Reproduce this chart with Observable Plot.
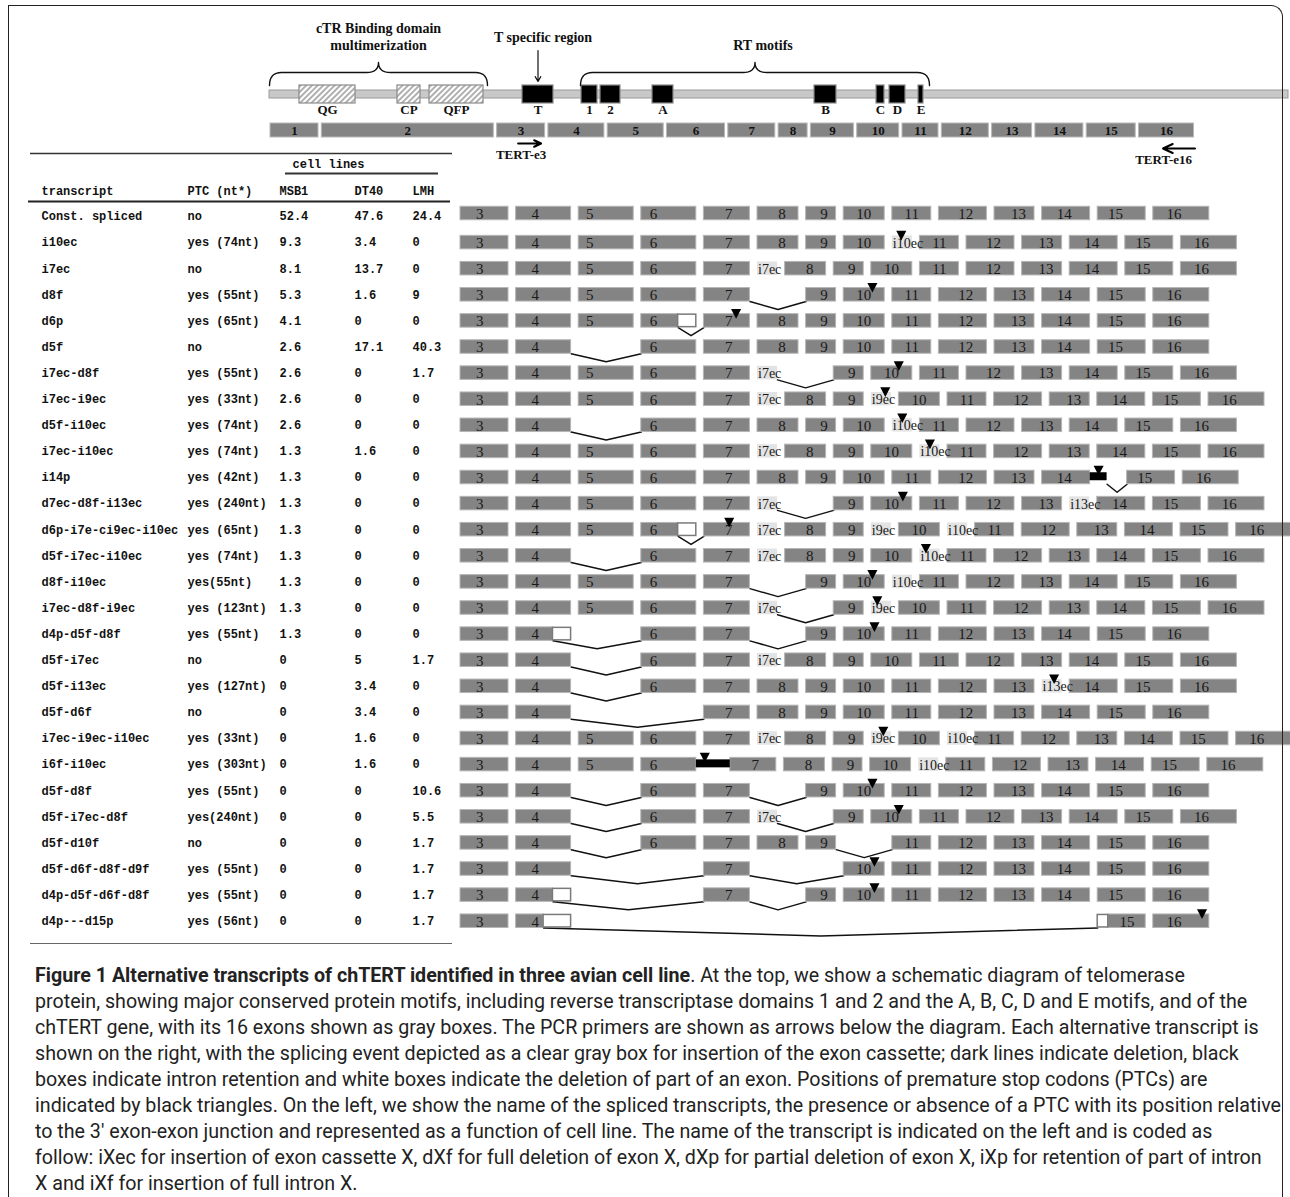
<!DOCTYPE html>
<html>
<head>
<meta charset="utf-8">
<script src="https://cdn.jsdelivr.net/npm/d3@7"></script>
<script src="https://cdn.jsdelivr.net/npm/@observablehq/plot@0.6"></script>
<style>
html,body{margin:0;padding:0;background:#fff;overflow:hidden;}
#wrap{position:relative;width:1290px;height:1197px;}
#frame{position:absolute;left:8px;top:5px;width:1275px;height:1250px;border:1.5px solid #222;border-bottom:none;border-top-right-radius:12px;pointer-events:none;box-sizing:border-box;}
#chart{position:absolute;left:0;top:0;}
#caption{position:absolute;left:35px;top:962px;font-family:Roboto,"Open Sans",sans-serif;font-size:21px;line-height:26px;color:#222;transform-origin:0 0;white-space:nowrap;}
#caption b{font-weight:700;}
</style>
</head>
<body>
<div id="wrap">
  <div id="chart"></div>
  <div id="caption"></div>
  <div id="frame"></div>
</div>
<script>
// ---------------- DATA ----------------
const transcripts = ["Const. spliced","i10ec","i7ec","d8f","d6p","d5f","i7ec-d8f","i7ec-i9ec","d5f-i10ec","i7ec-i10ec","i14p","d7ec-d8f-i13ec","d6p-i7e-ci9ec-i10ec","d5f-i7ec-i10ec","d8f-i10ec","i7ec-d8f-i9ec","d4p-d5f-d8f","d5f-i7ec","d5f-i13ec","d5f-d6f","i7ec-i9ec-i10ec","i6f-i10ec","d5f-d8f","d5f-i7ec-d8f","d5f-d10f","d5f-d6f-d8f-d9f","d4p-d5f-d6f-d8f","d4p---d15p"];
const ptcText = ["no","yes (74nt)","no","yes (55nt)","yes (65nt)","no","yes (55nt)","yes (33nt)","yes (74nt)","yes (74nt)","yes (42nt)","yes (240nt)","yes (65nt)","yes (74nt)","yes(55nt)","yes (123nt)","yes (55nt)","no","yes (127nt)","no","yes (33nt)","yes (303nt)","yes (55nt)","yes(240nt)","no","yes (55nt)","yes (55nt)","yes (56nt)"];
const msb1 = [52.4,9.3,8.1,5.3,4.1,2.6,2.6,2.6,2.6,1.3,1.3,1.3,1.3,1.3,1.3,1.3,1.3,0,0,0,0,0,0,0,0,0,0,0];
const dt40 = [47.6,3.4,13.7,1.6,0,17.1,0,0,0,1.6,0,0,0,0,0,0,0,5,3.4,3.4,1.6,1.6,0,0,0,0,0,0];
const lmh  = [24.4,0,0,9,0,40.3,1.7,0,0,0,0,0,0,0,0,0,0,1.7,0,0,0,0,10.6,5.5,1.7,1.7,1.7,1.7];
const tableHeaders = ["transcript","PTC (nt*)","MSB1","DT40","LMH"];

// transcript structures: N exon, dN deleted exon, N<f last part deleted, N>f first part deleted,
// iNec exon cassette, iNf full intron, iNp partial intron
const structure = [
 "3 4 5 6 7 8 9 10 11 12 13 14 15 16",
 "3 4 5 6 7 8 9 10 i10ec 11 12 13 14 15 16",
 "3 4 5 6 7 i7ec 8 9 10 11 12 13 14 15 16",
 "3 4 5 6 7 d8 9 10 11 12 13 14 15 16",
 "3 4 5 6<0.33 7 8 9 10 11 12 13 14 15 16",
 "3 4 d5 6 7 8 9 10 11 12 13 14 15 16",
 "3 4 5 6 7 i7ec d8 9 10 11 12 13 14 15 16",
 "3 4 5 6 7 i7ec 8 9 i9ec 10 11 12 13 14 15 16",
 "3 4 d5 6 7 8 9 10 i10ec 11 12 13 14 15 16",
 "3 4 5 6 7 i7ec 8 9 10 i10ec 11 12 13 14 15 16",
 "3 4 5 6 7 8 9 10 11 12 13 14 i14p 15 16",
 "3 4 5 6 7 i7ec d8 9 10 11 12 13 i13ec 14 15 16",
 "3 4 5 6<0.33 7 i7ec 8 9 i9ec 10 i10ec 11 12 13 14 15 16",
 "3 4 d5 6 7 i7ec 8 9 10 i10ec 11 12 13 14 15 16",
 "3 4 5 6 7 d8 9 10 i10ec 11 12 13 14 15 16",
 "3 4 5 6 7 i7ec d8 9 i9ec 10 11 12 13 14 15 16",
 "3 4<0.33 d5 6 7 d8 9 10 11 12 13 14 15 16",
 "3 4 d5 6 7 i7ec 8 9 10 11 12 13 14 15 16",
 "3 4 d5 6 7 8 9 10 11 12 13 i13ec 14 15 16",
 "3 4 d5 d6 7 8 9 10 11 12 13 14 15 16",
 "3 4 5 6 7 i7ec 8 9 i9ec 10 i10ec 11 12 13 14 15 16",
 "3 4 5 6 i6f 7 8 9 10 i10ec 11 12 13 14 15 16",
 "3 4 d5 6 7 d8 9 10 11 12 13 14 15 16",
 "3 4 d5 6 7 i7ec d8 9 10 11 12 13 14 15 16",
 "3 4 d5 6 7 8 9 d10 11 12 13 14 15 16",
 "3 4 d5 d6 7 d8 d9 10 11 12 13 14 15 16",
 "3 4<0.33 d5 d6 7 d8 9 10 11 12 13 14 15 16",
 "3 4<0.5 d5 d6 d7 d8 d9 d10 d11 d12 d13 d14 15>0.22 16"
];
// premature stop codon: element name and relative position within it
const ptcSite = ["","i10ec:0.45","","10:0.7","7:0.7","","10:0.67","i9ec:0.7","i10ec:0.5","i10ec:0.5","i14p:0.5","10:0.77","7:0.55","i10ec:0.3","10:0.7","i9ec:0.3","10:0.75","","i13ec:0.6","","i9ec:0.6","i6f:0.25","10:0.7","10:0.67","","10:0.75","10:0.75","16:0.87"];

// exon lengths in the transcript drawings (exons 3..16)
const exonIds = [3,4,5,6,7,8,9,10,11,12,13,14,15,16];
const exonLen = [48,55,55,55,46,41,30,41,39,48,40,48,48,56];

// gene (header) exons 1..16
const geneExonIds = ["1","2","3","4","5","6","7","8","9","10","11","12","13","14","15","16"];
const geneExonLen = [48,172,48,56,56,58,47,29,43,42,36,47,40,48,49,55];

// protein motifs along the protein bar
const motifNames = ["QG","CP","QFP","T","1","2","A","B","C","D","E"];
const motifStart = [299,397,429,522,581,600,652,814,876,889,918];
const motifEnd   = [355,420,483,553,597,620,673,836,884,905,923];
const motifKind  = ["hatch","hatch","hatch","solid","solid","solid","solid","solid","solid","solid","solid"];
const motifItalic= [false,true,true,false,false,false,false,false,false,false,false];
const proteinSpan = [269,1288];

const braceLines = [["cTR Binding domain","multimerization"],["RT motifs"]];
const braceFrom = [269,580];
const braceTo   = [487,929];

const primers = ["TERT-e3","TERT-e16"];
const primerExon = ["3","16"];
const primerDir = [1,-1];

const captionLines = [
 ["Figure 1 Alternative transcripts of chTERT identified in three avian cell line", ". At the top, we show a schematic diagram of telomerase"],
 ["", "protein, showing major conserved protein motifs, including reverse transcriptase domains 1 and 2 and the A, B, C, D and E motifs, and of the"],
 ["", "chTERT gene, with its 16 exons shown as gray boxes. The PCR primers are shown as arrows below the diagram. Each alternative transcript is"],
 ["", "shown on the right, with the splicing event depicted as a clear gray box for insertion of the exon cassette; dark lines indicate deletion, black"],
 ["", "boxes indicate intron retention and white boxes indicate the deletion of part of an exon. Positions of premature stop codons (PTCs) are"],
 ["", "indicated by black triangles. On the left, we show the name of the spliced transcripts, the presence or absence of a PTC with its position relative"],
 ["", "to the 3\u2032 exon-exon junction and represented as a function of cell line. The name of the transcript is indicated on the left and is coded as"],
 ["", "follow: iXec for insertion of exon cassette X, dXf for full deletion of exon X, dXp for partial deletion of exon X, iXp for retention of part of intron"],
 ["", "X and iXf for insertion of full intron X."]
];

// ---------------- LAYOUT ----------------
const W = 1290, H = 948;
const SERIF = "Liberation Serif, Times New Roman, serif";
const MONO = "Liberation Mono, Courier New, monospace";
const GAP = 7.6, CASS = 20, INTRON_F = 34, INTRON_P = 17, JUMP = 20, X0 = 460, BOXH = 13.5, DIP = 8;
const rowY = r => 216 + r * 26.1;
const labelAt = {3:.4,4:.35,5:.2,6:.22,7:.54,8:.6,9:.6,10:.49,11:.5,12:.56,13:.6,14:.46,15:.37,16:.37};
const widthOf = n => exonLen[exonIds.indexOf(n)];

function parseTok(t){
  let m;
  if ((m = t.match(/^d(\d+)$/))) return {kind:"del", n:+m[1], w:widthOf(+m[1]), name:"d"+m[1]};
  if ((m = t.match(/^(\d+)<([\d.]+)$/))) return {kind:"exon", n:+m[1], w:widthOf(+m[1]), cutEnd:+m[2], name:m[1]};
  if ((m = t.match(/^(\d+)>([\d.]+)$/))) return {kind:"exon", n:+m[1], w:widthOf(+m[1]), cutStart:+m[2], name:m[1]};
  if ((m = t.match(/^(\d+)$/))) return {kind:"exon", n:+m[1], w:widthOf(+m[1]), name:m[1]};
  if ((m = t.match(/^i(\d+)ec$/))) return {kind:"cass", w:CASS, name:t};
  if ((m = t.match(/^i(\d+)f$/))) return {kind:"intron", w:INTRON_F, attachL:true, attachR:true, name:t};
  if ((m = t.match(/^i(\d+)p$/))) return {kind:"intronP", w:INTRON_P, attachL:true, name:t};
}

const grayBoxes = [], whiteBoxes = [], cassBoxes = [], blackBoxes = [], exonLabels = [], cassLabels = [], spliceLines = [], ptcMarks = [];
structure.forEach((s, r) => {
  const cy = rowY(r) - (r === 0 ? 3 : 0), top = cy - BOXH/2, bot = cy + BOXH/2;
  const toks = s.split(" ").map(parseTok);
  let cur = X0;
  toks.forEach((t, i) => {
    if (i > 0) {
      const p = toks[i-1];
      if (p.kind === "intronP") cur += JUMP;
      else if (!(t.attachL || p.attachR)) cur += GAP;
    }
    t.x1 = cur; cur += t.w; t.x2 = cur;
  });
  toks.forEach(t => {
    if (t.kind === "exon") {
      const gs = t.x1 + (t.cutStart ? t.w * t.cutStart : 0);
      const ge = t.x2 - (t.cutEnd ? t.w * t.cutEnd : 0);
      grayBoxes.push({x1: gs, x2: ge, y1: top, y2: bot});
      if (t.cutEnd) whiteBoxes.push({x1: ge, x2: t.x2, y1: top + 0.5, y2: bot - 0.5});
      if (t.cutStart) whiteBoxes.push({x1: t.x1, x2: gs, y1: top + 0.5, y2: bot - 0.5});
      const lx = t.cutStart ? (gs + ge) / 2 : t.x1 + t.w * labelAt[t.n];
      exonLabels.push({x: lx, y: cy + 0.5, text: String(t.n)});
    } else if (t.kind === "cass") {
      cassBoxes.push({x1: t.x1, x2: t.x2, y1: top, y2: bot});
      cassLabels.push({x: t.x1 + 0.5, y: cy + 0.5, text: t.name});
    } else if (t.kind === "intron" || t.kind === "intronP") {
      blackBoxes.push({x1: t.x1, x2: t.x2, y1: top + 2, y2: top + 10});
    }
  });
  const vis = toks.map((t, i) => ({t, i})).filter(d => d.t.kind !== "del");
  for (let k = 1; k < vis.length; k++) {
    const a = vis[k-1], b = vis[k];
    if (b.i - a.i > 1 || a.t.cutEnd || b.t.cutStart || a.t.kind === "intronP") {
      const from = a.t.cutEnd ? a.t.x2 - a.t.w * a.t.cutEnd : a.t.x2;
      const to = b.t.x1;
      const id = r + "-" + k;
      spliceLines.push({id, x: from, y: bot}, {id, x: (from + to) / 2, y: bot + DIP}, {id, x: to, y: bot});
    }
  }
  if (ptcSite[r]) {
    const [nm, f] = ptcSite[r].split(":");
    const t = toks.find(d => d.name === nm);
    ptcMarks.push({x: t.x1 + t.w * (+f), y: top - 0.5});
  }
});

// header gene exons
const geneBoxes = [];
{ let cur = 270; geneExonIds.forEach((id, i) => { geneBoxes.push({id, x1: cur, x2: cur + geneExonLen[i], y1: 123, y2: 137}); cur += geneExonLen[i] + 3.3; }); }
const geneLabels = geneBoxes.map(b => ({x: (b.x1 + b.x2) / 2, y: 130.5, text: b.id}));

// protein motifs
const motifs = motifNames.map((n, i) => ({name: n, x1: motifStart[i], x2: motifEnd[i], kind: motifKind[i], italic: motifItalic[i]}));

// braces
const bracePts = [];
braceFrom.forEach((x1, i) => {
  const x2 = braceTo[i], xc = (x1 + x2) / 2, yEnd = 85, yMid = 72, yPk = 62, rr = 12;
  const q = (p0, c, p1, n, out) => { for (let k = 0; k <= n; k++) { const t = k / n; out.push([(1-t)*(1-t)*p0[0] + 2*(1-t)*t*c[0] + t*t*p1[0], (1-t)*(1-t)*p0[1] + 2*(1-t)*t*c[1] + t*t*p1[1]]); } };
  const pts = [];
  q([x1, yEnd], [x1, yMid], [x1 + rr, yMid], 8, pts);
  q([xc - rr, yMid], [xc, yMid], [xc, yPk], 8, pts);
  q([xc, yPk], [xc, yMid], [xc + rr, yMid], 8, pts);
  q([x2 - rr, yMid], [x2, yMid], [x2, yEnd], 8, pts);
  pts.forEach(([x, y]) => bracePts.push({id: i, x, y}));
});
const braceText = [];
braceLines.forEach((lines, i) => {
  const xc = (braceFrom[i] + braceTo[i]) / 2 + (i === 1 ? 8 : 0);
  lines.forEach((l, k) => braceText.push({x: xc, y: 45 - (lines.length - 1 - k) * 17, text: l}));
});
const tMotif = motifs[motifNames.indexOf("T")];
const tCenter = (tMotif.x1 + tMotif.x2) / 2;

// primers
const primerArrows = [], primerText = [];
primers.forEach((p, i) => {
  const b = geneBoxes[geneExonIds.indexOf(primerExon[i])];
  const c = (b.x1 + b.x2) / 2;
  if (primerDir[i] > 0) {
    primerArrows.push({x1: c - 3, x2: c + 20, y: 143});
    primerText.push({x: c, y: 154, text: p, anchor: "middle"});
  } else {
    primerArrows.push({x1: b.x2 + 1, x2: b.x2 - 31, y: 148});
    primerText.push({x: b.x2 - 2, y: 159, text: p, anchor: "end"});
  }
});

// table
const colX = [41, 187, 279, 354, 412];
const tableCells = [];
tableHeaders.forEach((h, j) => tableCells.push({x: colX[j], y: 191, text: h}));
transcripts.forEach((t, r) => {
  const y = rowY(r);
  [t, ptcText[r], String(msb1[r]), String(dt40[r]), String(lmh[r])].forEach((v, j) => tableCells.push({x: colX[j], y, text: v}));
});
tableCells.push({x: 292, y: 164, text: "cell lines"});
const tableRules = [
  {y: 153, x1: 30, x2: 452, w: 1.6, c: "#333"},
  {y: 173, x1: 285, x2: 438, w: 2, c: "#333"},
  {y: 201, x1: 28, x2: 450, w: 2, c: "#222"},
  {y: 943, x1: 30, x2: 452, w: 1, c: "#666"}
];

const downTri = { draw(ctx, size) { const r = Math.sqrt(size / Math.PI); ctx.moveTo(-r*1.2, -r*1.1); ctx.lineTo(r*1.2, -r*1.1); ctx.lineTo(0, r*1.2); ctx.closePath(); } };

const chart = Plot.plot({
  width: W, height: H, margin: 0,
  x: {domain: [0, W], range: [0, W], axis: null},
  y: {domain: [0, H], range: [0, H], axis: null},
  style: {background: "transparent", overflow: "visible"},
  marks: [
    // protein bar and motifs
    Plot.rect([{x1: proteinSpan[0], x2: proteinSpan[1]}], {x1: "x1", x2: "x2", y1: () => 90, y2: () => 98, fill: "#c8c8c8", stroke: "#9a9a9a", strokeWidth: 1}),
    Plot.rect(motifs.filter(d => d.kind === "hatch"), {x1: "x1", x2: "x2", y1: () => 85, y2: () => 103, fill: "url(#hatch)", stroke: "#8a8a8a", strokeWidth: 1.2}),
    Plot.rect(motifs.filter(d => d.kind === "solid"), {x1: "x1", x2: "x2", y1: () => 85, y2: () => 103, fill: "#000", stroke: "#8a8a8a", strokeWidth: 1.2}),
    Plot.text(motifs, {x: d => (d.x1 + d.x2) / 2, y: () => 109, text: "name", fontFamily: SERIF, fontWeight: "bold", fontStyle: d => d.italic ? "italic" : "normal", fontSize: 13, fill: "#111"}),
    Plot.line(bracePts, {x: "x", y: "y", z: "id", stroke: "#111", strokeWidth: 1.4, curve: "linear"}),
    Plot.text(braceText, {x: "x", y: "y", text: "text", fontFamily: SERIF, fontWeight: "bold", fontSize: 14, fill: "#111"}),
    Plot.text([{x: tCenter + 5, y: 37, text: "T specific region"}], {x: "x", y: "y", text: "text", fontFamily: SERIF, fontWeight: "bold", fontSize: 14, fill: "#111"}),
    Plot.arrow([{x: tCenter}], {x1: "x", x2: "x", y1: () => 50, y2: () => 81, stroke: "#111", strokeWidth: 1.2, headLength: 7}),
    // gene exons
    Plot.rect(geneBoxes, {x1: "x1", x2: "x2", y1: "y1", y2: "y2", fill: "#848484", stroke: "#b8b8b8", strokeWidth: 1}),
    Plot.text(geneLabels, {x: "x", y: "y", text: "text", fontFamily: SERIF, fontWeight: "bold", fontSize: 13, fill: "#111"}),
    Plot.arrow(primerArrows, {x1: "x1", x2: "x2", y1: "y", y2: "y", stroke: "#000", strokeWidth: 2, headLength: 8, headAngle: 50}),
    Plot.text(primerText, {x: "x", y: "y", text: "text", textAnchor: "end", fontFamily: SERIF, fontWeight: "bold", fontSize: 13, fill: "#111", filter: d => d.anchor === "end"}),
    Plot.text(primerText, {x: "x", y: "y", text: "text", fontFamily: SERIF, fontWeight: "bold", fontSize: 13, fill: "#111", filter: d => d.anchor === "middle"}),
    // table
    Plot.ruleY(tableRules, {y: "y", x1: "x1", x2: "x2", strokeWidth: "w", stroke: "c"}),
    Plot.text(tableCells, {x: "x", y: "y", text: "text", textAnchor: "start", fontFamily: MONO, fontWeight: "bold", fontSize: 12, fill: "#111"}),
    // transcripts
    Plot.line(spliceLines, {x: "x", y: "y", z: "id", stroke: "#111", strokeWidth: 1.5}),
    Plot.rect(grayBoxes, {x1: "x1", x2: "x2", y1: "y1", y2: "y2", fill: "#848484", stroke: "#b5b5b5", strokeWidth: 1}),
    Plot.rect(whiteBoxes, {x1: "x1", x2: "x2", y1: "y1", y2: "y2", fill: "#fff", stroke: "#7a7a7a", strokeWidth: 1.5}),
    Plot.rect(cassBoxes, {x1: "x1", x2: "x2", y1: "y1", y2: "y2", fill: "#e3e3e3"}),
    Plot.rect(blackBoxes, {x1: "x1", x2: "x2", y1: "y1", y2: "y2", fill: "#000"}),
    Plot.text(exonLabels, {x: "x", y: "y", text: "text", fontFamily: SERIF, fontSize: 15, fill: "#1a1a1a"}),
    Plot.text(cassLabels, {x: "x", y: "y", text: "text", textAnchor: "start", fontFamily: SERIF, fontSize: 14, fill: "#1a1a1a"}),
    Plot.dot(ptcMarks, {x: "x", y: "y", symbol: downTri, r: 4.2, fill: "#000", stroke: "none"})
  ]
});

// hatch pattern for the cTR binding motifs
const svgSel = d3.select(chart);
const defs = svgSel.insert("defs", ":first-child");
const pat = defs.append("pattern").attr("id", "hatch").attr("patternUnits", "userSpaceOnUse").attr("width", 4).attr("height", 4).attr("patternTransform", "rotate(45)");
pat.append("rect").attr("width", 4).attr("height", 4).attr("fill", "#fff");
pat.append("line").attr("x1", 1).attr("y1", 0).attr("x2", 1).attr("y2", 4).attr("stroke", "#7a7a7a").attr("stroke-width", 1.2);

document.getElementById("chart").appendChild(chart);

// caption
const cap = document.getElementById("caption");
captionLines.forEach(([b, rest]) => {
  const div = document.createElement("div");
  if (b) { const bb = document.createElement("b"); bb.textContent = b; div.appendChild(bb); }
  div.appendChild(document.createTextNode(rest));
  div.style.display = "table";
  cap.appendChild(div);
});
let maxW = 0;
cap.querySelectorAll("div").forEach(d => { maxW = Math.max(maxW, d.getBoundingClientRect().width); });
const k = 1246 / maxW;
cap.style.transform = `scaleX(${k})`;
</script>
</body>
</html>
